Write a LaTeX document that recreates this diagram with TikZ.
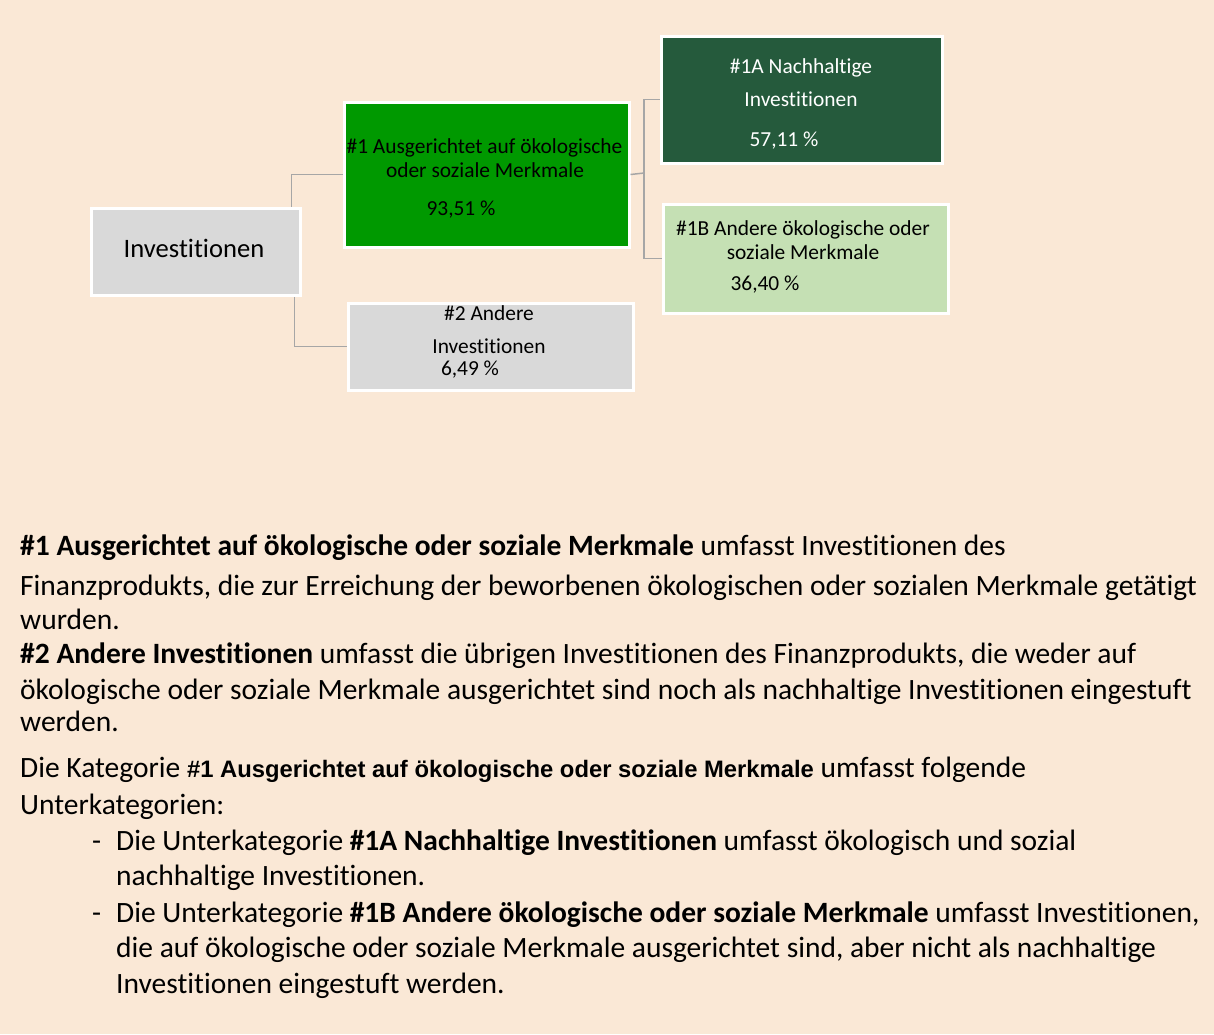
\documentclass[tikz,border=0pt]{standalone}
\usepackage{fontspec}
\setmainfont{Carlito}[Ligatures={NoCommon,NoContextual}]
\newfontfamily\arialfont{Liberation Sans}
\usetikzlibrary{calc}
\definecolor{bgpeach}{HTML}{FAE8D6}
\definecolor{boxgrey}{HTML}{D9D9D9}
\definecolor{boxgreen}{HTML}{009900}
\definecolor{boxdark}{HTML}{255A3C}
\definecolor{boxlight}{HTML}{C5E0B4}
\definecolor{conngrey}{HTML}{A6A6A6}
\newcommand{\bodyfs}{\fontsize{29.5}{34}\selectfont}
\newcommand{\boxfs}{\fontsize{21.4}{25}\selectfont}
\tikzset{
  boxshape/.style={draw=white, line width=3pt, anchor=north west, inner sep=0pt},
  conn/.style={draw=conngrey, line width=1.5pt},
  boxtxt/.style={anchor=base, inner sep=0pt, font=\boxfs},
  bodyline/.style={anchor=base west, inner sep=0pt, font=\bodyfs},
}
\begin{document}
\begin{tikzpicture}[x=1pt,y=-1pt]
\fill[bgpeach] (0,0) rectangle (1214,1034);
\useasboundingbox (0,0) rectangle (1214,1034);
% boxes
\node[boxshape, fill=boxgrey, minimum width=209pt, minimum height=87pt] (inv) at (89.5,206.5) {};
\node[boxshape, fill=boxgreen, minimum width=285pt, minimum height=145pt] (g1) at (342.5,100.5) {};
\node[boxshape, fill=boxgrey, minimum width=285pt, minimum height=87pt] (g2) at (346.5,301.5) {};
\node[boxshape, fill=boxdark, minimum width=281pt, minimum height=127pt] (a1) at (659.5,34.5) {};
\node[boxshape, fill=boxlight, minimum width=285pt, minimum height=109pt] (b1) at (661.5,202.5) {};
% connectors
\coordinate (j) at (644,173);
\draw[conn] (g1.west) -| ($(inv.north)+(96,0)$);
\draw[conn] (g2.west) -| ($(inv.south)+(99,0)$);
\draw[conn] (g1.east) -- (j);
\draw[conn] (a1.west) -| (j);
\draw[conn] (b1.west) -| (j);
% box texts
\node[anchor=base, inner sep=0pt, font=\fontsize{26.6}{30}\selectfont] (invt) at (194,257) {Investitionen};
\node[boxtxt] (g1a) at (484.5,153) {\#1 Ausgerichtet auf ökologische};
\node[boxtxt] (g1b) at (485,177) {oder soziale Merkmale};
\node[boxtxt] (g1c) at (461,215) {93,51 \%};
\node[boxtxt, text=white] (a1a) at (801,73) {\#1A Nachhaltige};
\node[boxtxt, text=white] (a1b) at (801,106) {Investitionen};
\node[boxtxt, text=white] (a1c) at (784,146) {57,11 \%};
\node[boxtxt] (b1a) at (803,235) {\#1B Andere ökologische oder};
\node[boxtxt] (b1b) at (803,259) {soziale Merkmale};
\node[boxtxt] (b1c) at (765,290) {36,40 \%};
\node[boxtxt] (g2a) at (489,320) {\#2 Andere};
\node[boxtxt] (g2b) at (489,353) {Investitionen};
\node[boxtxt] (g2c) at (470,375) {6,49 \%};
% body text
\node[bodyline] (l1) at (20,555) {\textbf{\#1 Ausgerichtet auf ökologische oder soziale Merkmale} umfasst Investitionen des};
\node[bodyline] (l2) at (20,595) {Finanzprodukts, die zur Erreichung der beworbenen ökologischen oder sozialen Merkmale getätigt};
\node[bodyline] (l3) at (20,629) {wurden.};
\node[bodyline] (l4) at (20,663) {\textbf{\#2 Andere Investitionen} umfasst die übrigen Investitionen des Finanzprodukts, die weder auf};
\node[bodyline] (l5) at (20,699) {ökologische oder soziale Merkmale ausgerichtet sind noch als nachhaltige Investitionen eingestuft};
\node[bodyline] (l6) at (20,731) {werden.};
\node[bodyline] (l7) at (20,777) {Die Kategorie {\arialfont\bfseries\fontsize{23.8}{27}\selectfont \#1 Ausgerichtet auf ökologische oder soziale Merkmale} umfasst folgende};
\node[bodyline] (l8) at (20,814) {Unterkategorien:};
\node[bodyline] (d1) at (92,850) {-};
\node[bodyline] (l9) at (116,850) {Die Unterkategorie \textbf{\#1A Nachhaltige Investitionen} umfasst ökologisch und sozial};
\node[bodyline] (l10) at (116,885) {nachhaltige Investitionen.};
\node[bodyline] (d2) at (92,922) {-};
\node[bodyline] (l11) at (116,922) {Die Unterkategorie \textbf{\#1B Andere ökologische oder soziale Merkmale} umfasst Investitionen,};
\node[bodyline] (l12) at (116,957) {die auf ökologische oder soziale Merkmale ausgerichtet sind, aber nicht als nachhaltige};
\node[bodyline] (l13) at (116,993) {Investitionen eingestuft werden.};
\end{tikzpicture}
\end{document}
